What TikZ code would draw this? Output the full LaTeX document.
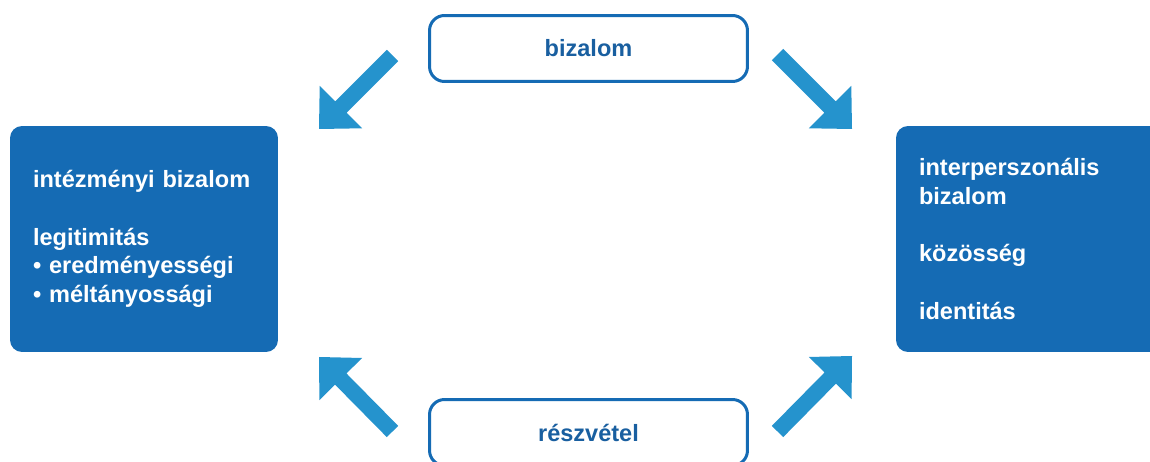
\documentclass[tikz,border=0pt]{standalone}
\usepackage{fontspec}
\setmainfont{Liberation Sans}
\usetikzlibrary{calc}
\definecolor{boxblue}{RGB}{21,107,180}
\definecolor{arrowblue}{RGB}{37,147,205}
\definecolor{labelblue}{RGB}{25,95,160}
\tikzset{
  sidebox/.style={fill=boxblue, rounded corners=0.24cm,
    minimum width=5.36cm, minimum height=4.52cm,
    text width=4.44cm, inner xsep=0.46cm, align=left, text=white,
    font=\bfseries\fontsize{13.4pt}{16.3pt}\selectfont},
  labelbox/.style={draw=boxblue, line width=0.06cm, fill=white,
    rounded corners=0.3cm, minimum width=6.36cm, minimum height=1.32cm,
    text=labelblue, font=\bfseries\fontsize{13.4pt}{16.3pt}\selectfont},
  blockarrow/.style={fill=arrowblue}
}
% thick block arrow from tail #1 to tip #2
\newcommand\blockarr[2]{%
  \coordinate (hb) at ($(#2)!0.62cm!(#1)$);
  \fill[blockarrow] ($(#1)!0.16cm!90:(#2)$) -- ($(hb)!0.16cm!90:(#2)$)
    -- ($(hb)!0.6cm!90:(#2)$) -- (#2) -- ($(hb)!0.6cm!-90:(#2)$)
    -- ($(hb)!0.16cm!-90:(#2)$) -- ($(#1)!0.16cm!-90:(#2)$) -- cycle;}
\begin{document}
\begin{tikzpicture}[x=0.02cm, y=-0.02cm]
  \useasboundingbox (0,0) rectangle (1150,462);
  \clip (0,0) rectangle (1150,462);

  % side boxes
  \node[sidebox] (inst) at (144,239) {intézményi bizalom\\[16.3pt]
    legitimitás\\
    • eredményességi\\
    • méltányossági};
  \node[sidebox] (inter) at (1030,239) {interperszonális\\
    bizalom\\[16.3pt]
    közösség\\[16.3pt]
    identitás};

  % outlined labels
  \node[labelbox] (trust) at (588.5,48.5) {bizalom};
  \node[labelbox] (part) at (588.5,432.5) {részvétel};

  % arrow ends
  \coordinate (a1t) at (392.5,55.5);  \coordinate (a1h) at (319,129);
  \coordinate (a2t) at (777.5,54.5);  \coordinate (a2h) at (852,129);
  \coordinate (a3t) at (392.5,431.5); \coordinate (a3h) at (319,357);
  \coordinate (a4t) at (777.5,431.5); \coordinate (a4h) at (852,356);

  \blockarr{a1t}{a1h}
  \blockarr{a2t}{a2h}
  \blockarr{a3t}{a3h}
  \blockarr{a4t}{a4h}
\end{tikzpicture}
\end{document}
